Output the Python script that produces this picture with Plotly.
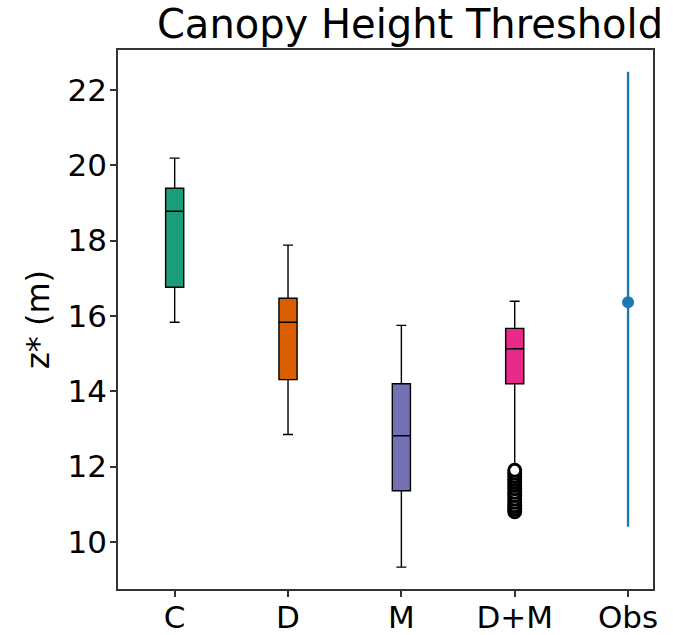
import plotly.graph_objects as go

# ---- data ----
categories = ["C", "D", "M", "D+M", "Obs"]
box_names = ["C", "D", "M", "D+M"]
q1 = [16.76, 14.31, 11.36, 14.20]
median = [18.78, 15.83, 12.82, 15.13]
q3 = [19.39, 16.47, 14.20, 15.67]
lower_whisker = [15.83, 12.85, 9.33, 11.97]
upper_whisker = [20.19, 17.88, 15.75, 16.39]
box_colors = ["#1b9e77", "#d95f02", "#7570b3", "#e7298a"]

dm_outliers = [10.80, 10.88, 10.96, 11.05, 11.14, 11.23, 11.32, 11.41,
               11.50, 11.58, 11.66, 11.74, 11.82, 11.90]

obs_value = 16.36
obs_min = 10.40
obs_max = 22.48

y_ticks = [10, 12, 14, 16, 18, 20, 22]

FONT = "DejaVu Sans"

fig = go.Figure()

for name, a, m, b, lo, hi, col in zip(box_names, q1, median, q3,
                                      lower_whisker, upper_whisker, box_colors):
    fig.add_trace(go.Box(
        x=[name], q1=[a], median=[m], q3=[b],
        lowerfence=[lo], upperfence=[hi],
        fillcolor=col, line=dict(color="black", width=1.4),
        width=0.16, whiskerwidth=0.55, boxpoints=False,
        showlegend=False, hoverinfo="y",
    ))

fig.add_trace(go.Scatter(
    x=["D+M"] * len(dm_outliers), y=dm_outliers, mode="markers",
    marker=dict(symbol="circle", size=12, color="white",
                line=dict(color="black", width=3)),
    showlegend=False,
))

fig.add_trace(go.Scatter(
    x=["Obs"], y=[obs_value], mode="markers",
    marker=dict(size=12, color="#1f77b4"),
    error_y=dict(type="data", symmetric=False,
                 array=[obs_max - obs_value],
                 arrayminus=[obs_value - obs_min],
                 width=0, thickness=2.4, color="#1f77b4"),
    showlegend=False,
))

fig.update_layout(
    width=673, height=635,
    margin=dict(l=118, r=20, t=50, b=46),
    paper_bgcolor="white", plot_bgcolor="white",
    font=dict(family=FONT, size=31, color="black"),
    title=dict(text="Canopy Height Threshold", font=dict(family=FONT, size=40),
               x=410 / 673, xanchor="center", y=0.962, yanchor="middle"),
    boxmode="overlay",
)

fig.update_xaxes(
    type="category", categoryorder="array", categoryarray=categories,
    range=[-0.5, 4.22], showgrid=False, zeroline=False, automargin=False,
    showline=True, linecolor="#333333", linewidth=1.5, mirror=True,
    ticks="outside", ticklen=6, tickwidth=1.5, tickcolor="#333333",
    tickfont=dict(family=FONT, size=31), ticklabelstandoff=-6,
)
fig.update_yaxes(
    range=[8.75, 23.06], tickvals=y_ticks, showgrid=False, zeroline=False,
    automargin=False,
    showline=True, linecolor="#333333", linewidth=1.5, mirror=True,
    ticks="outside", ticklen=6, tickwidth=1.5, tickcolor="#333333",
    tickfont=dict(family=FONT, size=31), ticklabelstandoff=-3,
    title=dict(text="z* (m)", font=dict(family=FONT, size=32), standoff=8),
)

fig.write_html("out.html")
